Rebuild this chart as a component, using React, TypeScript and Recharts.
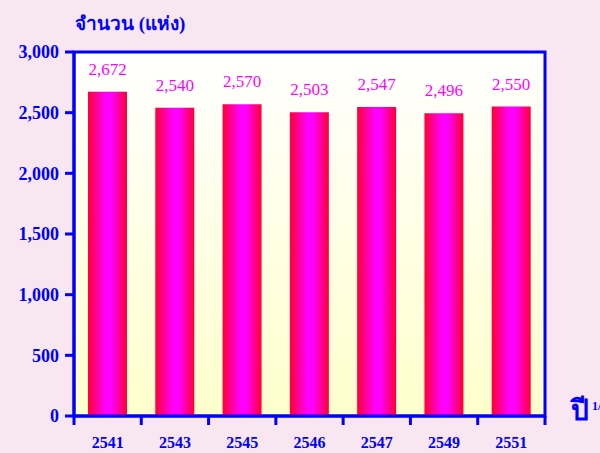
import React from 'react';
import { BarChart, Bar, XAxis, YAxis, LabelList, CartesianGrid, ReferenceArea } from 'recharts';

const years = ['2541', '2543', '2545', '2546', '2547', '2549', '2551'];
const counts = [2672, 2540, 2570, 2503, 2547, 2496, 2550];
const yTicks = [0, 500, 1000, 1500, 2000, 2500, 3000];

const data = years.map((year, i) => ({ year, value: counts[i] }));

const BLUE = '#0000FF';
const FONT = '"Liberation Serif", "Times New Roman", serif';

const fmt = (v: number) => v.toLocaleString('en-US');

const YearTick = (props: any) => {
  const { x, y, payload, index, width, visibleTicksCount } = props;
  const band = width / visibleTicksCount;
  const top = y - 8;
  return (
    <g>
      <line x1={x - band / 2} y1={top} x2={x - band / 2} y2={top + 9} stroke={BLUE} strokeWidth={3} />
      {index === visibleTicksCount - 1 && (
        <line x1={x + band / 2} y1={top} x2={x + band / 2} y2={top + 9} stroke={BLUE} strokeWidth={3} />
      )}
      <text x={x} y={y + 24} textAnchor="middle" fill={BLUE} fontFamily={FONT} fontWeight="bold" fontSize={16}>
        {payload.value}
      </text>
    </g>
  );
};

export default function App() {
  return (
    <div style={{ position: 'absolute', left: 0, top: 0, width: 600, height: 453, background: '#F8E7F1', fontFamily: FONT }}>
      <BarChart width={600} height={453} data={data} margin={{ top: 52, right: 55, left: 0, bottom: 0 }}>
        <defs>
          <linearGradient id="plotBg" x1="0" y1="0" x2="0" y2="1">
            <stop offset="0%" stopColor="#FFFFFF" />
            <stop offset="100%" stopColor="#FFFFCC" />
          </linearGradient>
          <linearGradient id="barFill" x1="0" y1="0" x2="1" y2="0">
            <stop offset="0%" stopColor="#FF0033" />
            <stop offset="45%" stopColor="#FF00FF" />
            <stop offset="60%" stopColor="#FF00FF" />
            <stop offset="100%" stopColor="#FF0033" />
          </linearGradient>
        </defs>
        <CartesianGrid horizontal={false} vertical={false} fill="url(#plotBg)" />
        <XAxis
          dataKey="year"
          axisLine={{ stroke: BLUE, strokeWidth: 3 }}
          tickLine={false}
          height={37}
          interval={0}
          tick={<YearTick />}
        />
        <YAxis
          domain={[0, 3000]}
          ticks={yTicks}
          width={74}
          tickSize={9}
          tickMargin={6}
          tickFormatter={fmt}
          axisLine={{ stroke: BLUE, strokeWidth: 3 }}
          tickLine={{ stroke: BLUE, strokeWidth: 3 }}
          tick={{ fill: BLUE, fontFamily: FONT, fontWeight: 'bold', fontSize: 18 }}
        />
        <ReferenceArea x1="2541" x2="2551" y1={0} y2={3000} fill="none" stroke={BLUE} strokeWidth={3} ifOverflow="visible" />
        <Bar dataKey="value" fill="url(#barFill)" barSize={39} isAnimationActive={false}>
          <LabelList dataKey="value" position="top" offset={17} formatter={(v: any) => fmt(Number(v))} fill="#FF00FF" fontFamily={FONT} fontSize={17} />
        </Bar>
      </BarChart>
      <div style={{ position: 'absolute', left: 75, top: 8, color: BLUE, fontWeight: 'bold', fontSize: 19, fontFamily: FONT }}>
        จำนวน (แห่ง)
      </div>
      <div style={{ position: 'absolute', left: 571, top: 388, color: BLUE, fontWeight: 'bold', fontSize: 28, fontFamily: FONT, whiteSpace: 'nowrap' }}>
        ปี<sup style={{ fontSize: 12, marginLeft: 3 }}>1/</sup>
      </div>
    </div>
  );
}
